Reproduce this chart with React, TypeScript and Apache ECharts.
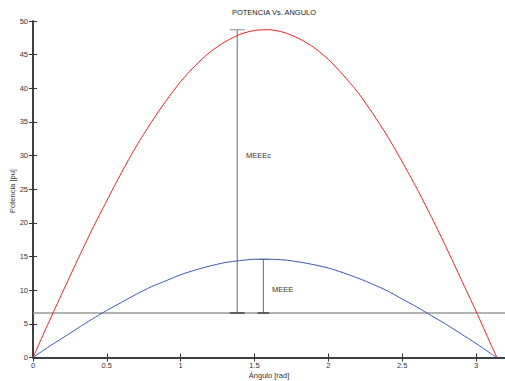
import React, { useEffect, useRef } from "react";
import * as echarts from "echarts";

const angles = [0, 0.1, 0.2, 0.3, 0.4, 0.5, 0.6, 0.7, 0.8, 0.9, 1.0, 1.1, 1.2, 1.3, 1.4, 1.5, 1.6, 1.7, 1.8, 1.9, 2.0, 2.1, 2.2, 2.3, 2.4, 2.5, 2.6, 2.7, 2.8, 2.9, 3.0, 3.1, 3.1416];
const potenciaRed = [0, 4.9, 9.7, 14.4, 19.0, 23.3, 27.5, 31.4, 34.9, 38.1, 41.0, 43.4, 45.4, 46.9, 48.0, 48.6, 48.7, 48.3, 47.4, 46.1, 44.3, 42.0, 39.4, 36.3, 32.9, 29.1, 25.1, 20.8, 16.3, 11.6, 6.9, 2.0, 0];
const potenciaBlue = [0, 1.5, 2.9, 4.3, 5.7, 7.0, 8.2, 9.4, 10.5, 11.4, 12.3, 13.0, 13.6, 14.1, 14.4, 14.6, 14.6, 14.5, 14.2, 13.8, 13.3, 12.6, 11.8, 10.9, 9.9, 8.7, 7.5, 6.2, 4.9, 3.5, 2.1, 0.6, 0];
const mecanica = 6.63;
const meeecX = 1.383;
const meeecTop = 48.7;
const meeeX = 1.56;
const meeeTop = 14.6;
const xMin = 0;
const xMax = 3.2;
const yMin = 0;
const yMax = 50;
const xName = "Ángulo [rad]";
const yName = "Potencia [pu]";

const font = "'Liberation Sans', Arial, sans-serif";

export default function App() {
  const ref = useRef<HTMLDivElement>(null);
  useEffect(() => {
    if (!ref.current) return;
    const chart = echarts.init(ref.current, undefined, { renderer: "svg" });
    const pair = (arr: number[]) => angles.map((a, i) => [a, arr[i]]);
    const errSeries = (x: number, top: number, cap: number) => [
      { type: "line", data: [[x, mecanica], [x, top]], lineStyle: { color: "#444", width: 0.8 } },
      { type: "line", data: [[x - cap, top], [x + cap, top]], lineStyle: { color: "#888", width: 1.2 } },
      { type: "line", data: [[x - cap, mecanica], [x + cap, mecanica]], lineStyle: { color: "#444", width: 1.5 } },
    ];
    const common = { symbol: "none", silent: true, z: 3 };
    const axisLabel = { color: "#333", fontSize: 7.5, fontFamily: font };
    chart.setOption({
      animation: false,
      title: {
        text: "POTENCIA Vs. ANGULO",
        left: 269,
        textAlign: "center",
        top: 3,
        textStyle: { color: "#222", fontSize: 7.5, fontWeight: "normal", fontFamily: font },
      },
      grid: { left: 33, top: 21, width: 472.5, height: 336.5, containLabel: false, outerBoundsMode: "none" },
      xAxis: [
        {
          type: "value", min: xMin, max: xMax, interval: 0.5,
          axisLine: { lineStyle: { color: "#333", width: 1.5 } },
          axisTick: { inside: true, length: 4, lineStyle: { color: "#333" } },
          axisLabel: { ...axisLabel, margin: 4, showMaxLabel: false },
          splitLine: { show: false },
        },
        {
          type: "value", position: "top", min: xMin, max: xMax, interval: 0.5,
          axisLine: { lineStyle: { color: "#333", width: 1.5 } },
          axisTick: { inside: true, length: 4, lineStyle: { color: "#333" } },
          axisLabel: { show: false },
          splitLine: { show: false },
        },
      ],
      yAxis: [
        {
          type: "value", min: yMin, max: yMax, interval: 5,
          axisLine: { lineStyle: { color: "#333", width: 1.5 } },
          axisTick: { inside: true, length: 4, lineStyle: { color: "#333" } },
          axisLabel: { ...axisLabel, margin: 5 },
          splitLine: { show: false },
        },
        {
          type: "value", position: "right", min: yMin, max: yMax, interval: 5,
          axisLine: { lineStyle: { color: "#333", width: 1.5 } },
          axisTick: { inside: true, length: 4, lineStyle: { color: "#333" } },
          axisLabel: { show: false },
          splitLine: { show: false },
        },
      ],
      series: [
        { type: "line", data: [[xMin, mecanica], [xMax, mecanica]], lineStyle: { color: "#999", width: 1.5 }, ...common, z: 2 },
        ...errSeries(meeecX, meeecTop, 0.05).map((s) => ({ ...common, ...s })),
        ...errSeries(meeeX, meeeTop, 0.04).map((s) => ({ ...common, ...s })),
        { type: "line", data: pair(potenciaRed), smooth: 0.25, lineStyle: { color: "#ee2222", width: 1 }, ...common, z: 4 },
        { type: "line", data: pair(potenciaBlue), smooth: 0.25, lineStyle: { color: "#3a58b0", width: 1 }, ...common, z: 4 },
      ],
      graphic: [
        { type: "text", left: 246, top: 151, style: { text: "MEEEc", fill: "#333", fontSize: 7.5, fontFamily: font } },
        { type: "text", left: 272, top: 285, style: { text: "MEEE", fill: "#333", fontSize: 7.5, fontFamily: font } },
        { type: "text", x: 269, y: 375, style: { text: xName, fill: "#333", fontSize: 7.5, fontFamily: font, align: "center", verticalAlign: "middle" } },
        { type: "text", x: 12, y: 191, rotation: Math.PI / 2, style: { text: yName, fill: "#333", fontSize: 7.5, fontFamily: font, align: "center", verticalAlign: "middle" } },
      ],
    });
    return () => chart.dispose();
  }, []);
  return <div ref={ref} style={{ width: 505, height: 381, position: "absolute", left: 0, top: 0, background: "#fff" }} />;
}
